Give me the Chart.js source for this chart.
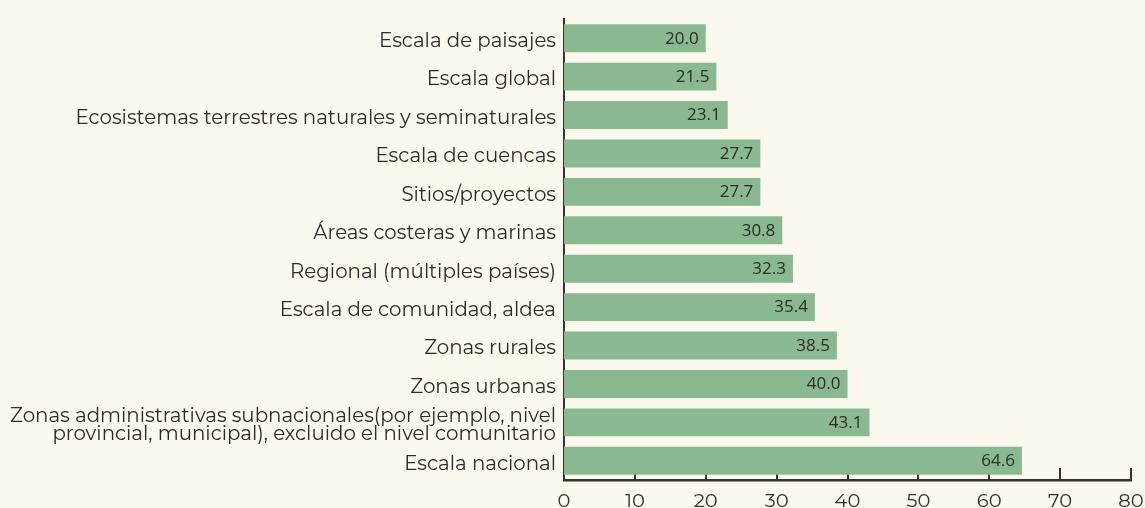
<!DOCTYPE html>
<html>
<head>
<meta charset="utf-8">
<script src="https://cdn.jsdelivr.net/npm/chart.js@4.4.1/dist/chart.umd.min.js"></script>
<style>
  html, body { margin: 0; padding: 0; background: #fbf8ed; }
  #wrap { width: 1145px; height: 508px; position: relative; }
</style>
</head>
<body>
<div id="wrap"><canvas id="chart"></canvas></div>
<script>
// categories, top to bottom
const categories = [
    'Escala de paisajes',
    'Escala global',
    'Ecosistemas terrestres naturales y seminaturales',
    'Escala de cuencas',
    'Sitios/proyectos',
    'Áreas costeras y marinas',
    'Regional (múltiples países)',
    'Escala de comunidad, aldea',
    'Zonas rurales',
    'Zonas urbanas',
    ['Zonas administrativas subnacionales(por ejemplo, nivel', 'provincial, municipal), excluido el nivel comunitario'],
    'Escala nacional'
];
const percentages = [20.0, 21.5, 23.1, 27.7, 27.7, 30.8, 32.3, 35.4, 38.5, 40.0, 43.1, 64.6];
const xTicks = [0, 10, 20, 30, 40, 50, 60, 70, 80];

const axisColor = '#333333';
const labelFont = 'Montserrat, "DejaVu Sans", sans-serif';

// value labels drawn at the end of each bar
const valueLabels = {
    id: 'valueLabels',
    afterDatasetsDraw(chart) {
        const ctx = chart.ctx;
        const meta = chart.getDatasetMeta(0);
        ctx.save();
        ctx.font = '17px "Open Sans"';
        ctx.fillStyle = '#2b2b2b';
        ctx.textAlign = 'right';
        ctx.textBaseline = 'middle';
        meta.data.forEach((bar, i) => {
            ctx.fillText(percentages[i].toFixed(1), bar.x - 7, bar.y + 0.5);
        });
        ctx.restore();
    }
};

// small tick marks pointing up from the x axis (bars cover them)
const innerTicks = {
    id: 'innerTicks',
    beforeDatasetsDraw(chart) {
        const ctx = chart.ctx;
        const x = chart.scales.x;
        const bottom = chart.chartArea.bottom;
        ctx.save();
        ctx.strokeStyle = axisColor;
        ctx.lineWidth = 2;
        xTicks.slice(1).forEach(v => {
            const px = Math.round(x.getPixelForValue(v));
            ctx.beginPath();
            ctx.moveTo(px, bottom - 12);
            ctx.lineTo(px, bottom + 1);
            ctx.stroke();
        });
        ctx.restore();
    }
};

new Chart(document.getElementById('chart'), {
    type: 'bar',
    data: {
        labels: categories,
        datasets: [{
            data: percentages,
            backgroundColor: '#8ab991',
            borderWidth: 0,
            barPercentage: 0.725,
            categoryPercentage: 1.0
        }]
    },
    options: {
        indexAxis: 'y',
        responsive: true,
        maintainAspectRatio: false,
        animation: false,
        layout: { padding: { top: 19, right: 14, left: 0, bottom: 0 } },
        plugins: {
            legend: { display: false },
            tooltip: { enabled: false }
        },
        scales: {
            x: {
                min: 0,
                max: 80,
                afterBuildTicks: s => { s.ticks = xTicks.map(v => ({ value: v })); },
                grid: { display: false, drawTicks: false },
                border: { display: true, color: axisColor, width: 2.5 },
                ticks: {
                    color: axisColor,
                    font: { family: labelFont, size: 19.5 },
                    padding: 10
                },
                afterFit: s => {
                    s.height = 28;
                    s.paddingLeft = 0;
                    s.paddingRight = 0;
                }
            },
            y: {
                grid: { display: false, drawTicks: false },
                border: { display: true, color: axisColor, width: 2 },
                ticks: {
                    color: '#2b2b2b',
                    font: { family: labelFont, size: 19.8, lineHeight: 0.88 },
                    padding: 8,
                    labelOffset: 3,
                    autoSkip: false
                },
                afterFit: s => {
                    s.width = 564;
                    s.paddingTop = 0;
                    s.paddingBottom = 0;
                }
            }
        }
    },
    plugins: [valueLabels, innerTicks]
});
</script>
</body>
</html>
